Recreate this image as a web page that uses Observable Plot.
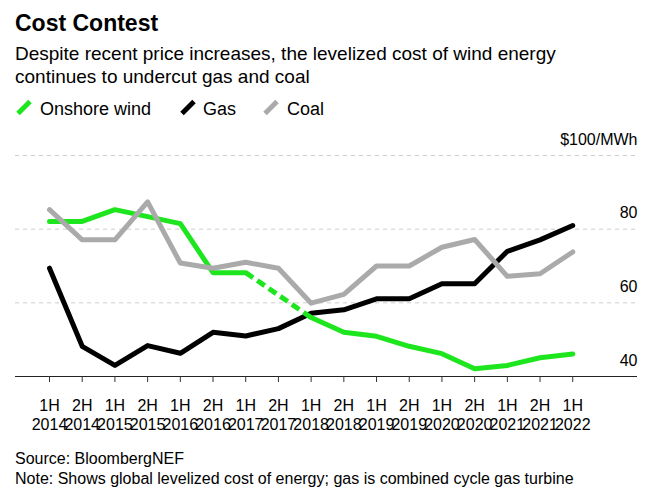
<!DOCTYPE html>
<html><head><meta charset="utf-8">
<script src="https://cdn.jsdelivr.net/npm/d3@7"></script>
<script src="https://cdn.jsdelivr.net/npm/@observablehq/plot@0.6"></script>
<style>
body{margin:0;background:#fff;font-family:"Liberation Sans",Arial,sans-serif;color:#000;}
#wrap{position:relative;width:651px;height:497px;overflow:hidden;}
.t{position:absolute;left:15px;white-space:nowrap;}
.lg{position:absolute;top:100px;font-size:18px;line-height:18px;white-space:nowrap;}
.sw{position:absolute;top:99px;}
</style></head><body>
<div id="wrap">
<div class="t" style="top:12px;font-size:23px;line-height:23px;font-weight:bold;">Cost Contest</div>
<div class="t" style="top:42px;font-size:19px;line-height:23px;">Despite recent price increases, the levelized cost of wind energy<br>continues to undercut gas and coal</div>
<svg class="sw" style="left:15px" width="20" height="17"><line x1="3" y1="14.5" x2="15" y2="2.5" stroke="#1ee61e" stroke-width="5"/></svg>
<div class="lg" style="left:40px">Onshore wind</div>
<svg class="sw" style="left:179px" width="20" height="17"><line x1="3" y1="14.5" x2="15" y2="2.5" stroke="#000" stroke-width="5"/></svg>
<div class="lg" style="left:203px">Gas</div>
<svg class="sw" style="left:262px" width="20" height="17"><line x1="3" y1="14.5" x2="15" y2="2.5" stroke="#aaaaaa" stroke-width="5"/></svg>
<div class="lg" style="left:287px">Coal</div>
<div id="chart" style="position:absolute;left:0;top:120px;"></div>
<div class="t" style="top:449px;font-size:16px;line-height:20px;">Source: BloombergNEF<br>Note: Shows global levelized cost of energy; gas is combined cycle gas turbine</div>
</div>
<script>
const periods = ["1H 2014","2H 2014","1H 2015","2H 2015","1H 2016","2H 2016","1H 2017","2H 2017","1H 2018","2H 2018","1H 2019","2H 2019","1H 2020","2H 2020","1H 2021","2H 2021","1H 2022"];
const onshoreWind = [82.1, 82.1, 85.3, 83.4, 81.5, 68.2, 68.2, null, 56.0, 52.0, 50.9, 48.2, 46.2, 42.1, 43.0, 45.1, 46.1];
const gas = [69.4, 48.2, 43.0, 48.4, 46.3, 52.0, 51.0, 53.0, 57.2, 58.1, 61.1, 61.1, 65.2, 65.2, 74.0, 77.1, 81.0];
const coal = [85.3, 77.1, 77.1, 87.4, 70.8, 69.4, 71.0, 69.4, 59.9, 62.3, 70.0, 70.0, 75.1, 77.2, 67.2, 67.9, 73.8];
const yTicks = [40, 60, 80, 100];
const yTickLabels = ["40", "60", "80", "$100/MWh"];
const dashedFrom = 6, dashedTo = 8;

const rows = periods.map((p, i) => ({i, label: p.replace(" ", "\n"), wind: onshoreWind[i], gas: gas[i], coal: coal[i]}));
const dashed = rows.filter(d => d.i >= dashedFrom && d.i <= dashedTo && d.wind != null);
const idx = rows.map(d => d.i);

const chart = Plot.plot({
  width: 651, height: 316,
  marginLeft: 15, marginRight: 14, marginTop: 35, marginBottom: 60,
  style: {fontFamily: "Liberation Sans, Arial, sans-serif", background: "transparent", overflow: "visible", color: "#000"},
  x: {domain: [-1.04, 17.98], axis: null, label: null},
  y: {domain: [40, 100], axis: null, label: null},
  marks: [
    Plot.ruleY(yTicks.slice(1), {stroke: "#cccccc", strokeWidth: 1, strokeDasharray: "4,4"}),
    Plot.ruleY([40], {stroke: "#222", strokeWidth: 1}),
    Plot.axisX({ticks: idx, tickSize: 6, tickFormat: () => "", label: null, stroke: "#333", strokeOpacity: 1}),
    Plot.text(rows, {x: "i", frameAnchor: "bottom", text: "label", lineAnchor: "top", dy: 21, lineHeight: 1.19, fontSize: 16, fill: "#000"}),
    Plot.text(yTicks, {y: d => d, frameAnchor: "right", text: (d, i) => yTickLabels[i], textAnchor: "end", dy: -16, fontSize: 16, fill: "#000"}),
    Plot.line(rows, {x: "i", y: "gas", stroke: "#000", strokeWidth: 5}),
    Plot.line(rows, {x: "i", y: "wind", stroke: "#1ee61e", strokeWidth: 5}),
    Plot.line(dashed, {x: "i", y: "wind", stroke: "#1ee61e", strokeWidth: 5, strokeDasharray: "9,5", strokeLinecap: "butt"}),
    Plot.line(rows, {x: "i", y: "coal", stroke: "#aaaaaa", strokeWidth: 5})
  ]
});
document.getElementById("chart").appendChild(chart);
</script>
</body></html>
